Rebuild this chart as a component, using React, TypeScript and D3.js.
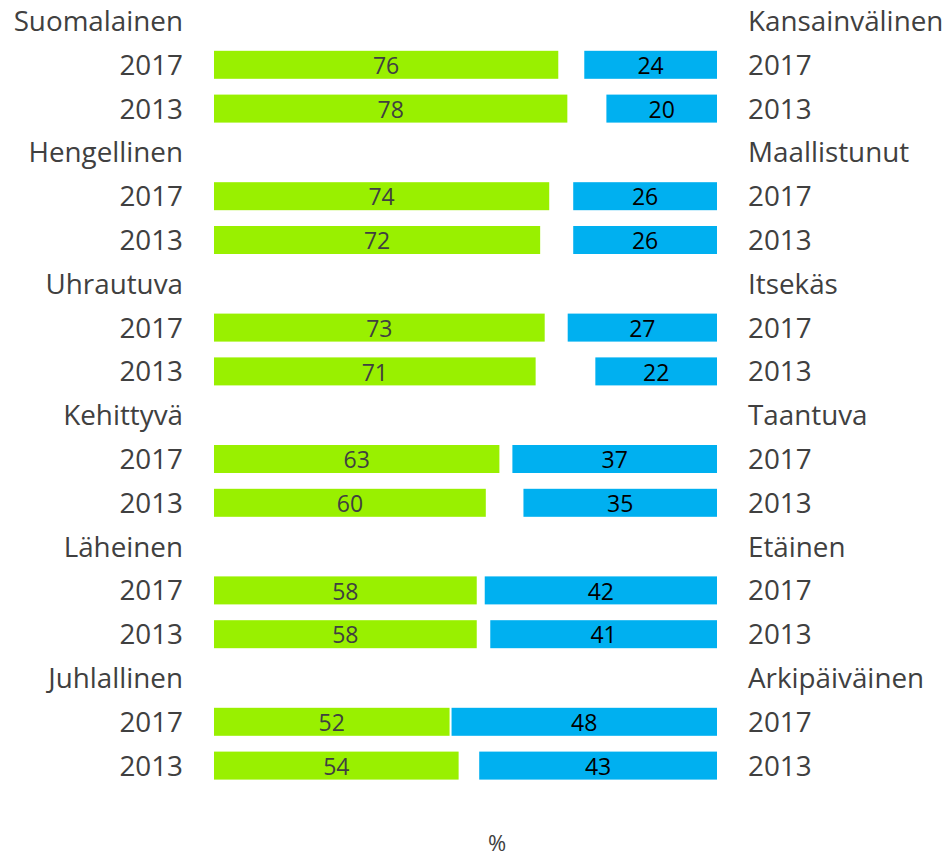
import React from "react";
import * as d3 from "d3";

const groupsLeft = ["Suomalainen", "Hengellinen", "Uhrautuva", "Kehittyvä", "Läheinen", "Juhlallinen"];
const groupsRight = ["Kansainvälinen", "Maallistunut", "Itsekäs", "Taantuva", "Etäinen", "Arkipäiväinen"];
const years = ["2017", "2013"];
const greenValues = [[76, 78], [74, 72], [73, 71], [63, 60], [58, 58], [52, 54]];
const blueValues = [[24, 20], [26, 26], [27, 22], [37, 35], [42, 41], [48, 43]];

const W = 951;
const H = 859;
const FONT = "'Open Sans', sans-serif";

export default function App() {
  const rows: { type: string; g: number; y?: number }[] = [];
  groupsLeft.forEach((_, g) => {
    rows.push({ type: "head", g });
    years.forEach((_, y) => rows.push({ type: "bar", g, y }));
  });
  const yPos = d3.scaleLinear().domain([0, rows.length - 1]).range([21, 765.6]);
  const gx = d3.scaleLinear().domain([0, 100]).range([214, 667]);
  const bx = d3.scaleLinear().domain([0, 100]).range([717, 164]);
  const bh = 28;
  const LS = 27.8;

  return (
    <svg width={W} height={H} style={{ position: "absolute", left: 0, top: 0 }}>
      <rect width={W} height={H} fill="#fff" />
      {rows.map((r, i) => {
        const cy = yPos(i);
        if (r.type === "head") {
          return (
            <g key={i}>
              <text x={183} y={cy} dy="0.36em" textAnchor="end" fontSize={LS} fill="#404040" fontFamily={FONT}>{groupsLeft[r.g]}</text>
              <text x={748} y={cy} dy="0.36em" textAnchor="start" fontSize={LS} fill="#404040" fontFamily={FONT}>{groupsRight[r.g]}</text>
            </g>
          );
        }
        const gv = greenValues[r.g][r.y!];
        const bv = blueValues[r.g][r.y!];
        return (
          <g key={i}>
            <text x={183} y={cy} dy="0.36em" textAnchor="end" fontSize={LS} fill="#404040" fontFamily={FONT}>{years[r.y!]}</text>
            <text x={748} y={cy} dy="0.36em" textAnchor="start" fontSize={LS} fill="#404040" fontFamily={FONT}>{years[r.y!]}</text>
            <rect x={gx(0)} y={cy - bh / 2} width={gx(gv) - gx(0)} height={bh} fill="#99F000" />
            <rect x={bx(bv)} y={cy - bh / 2} width={bx(0) - bx(bv)} height={bh} fill="#00B0F0" />
            <text x={(gx(0) + gx(gv)) / 2} y={cy + 1} dy="0.36em" textAnchor="middle" fontSize={23} fill="#404040" fontFamily={FONT}>{gv}</text>
            <text x={(bx(0) + bx(bv)) / 2} y={cy + 1} dy="0.36em" textAnchor="middle" fontSize={23} fill="#000" fontFamily={FONT}>{bv}</text>
          </g>
        );
      })}
      <text x={497} y={851} textAnchor="middle" fontSize={22} fill="#404040" fontFamily={FONT}>%</text>
    </svg>
  );
}
